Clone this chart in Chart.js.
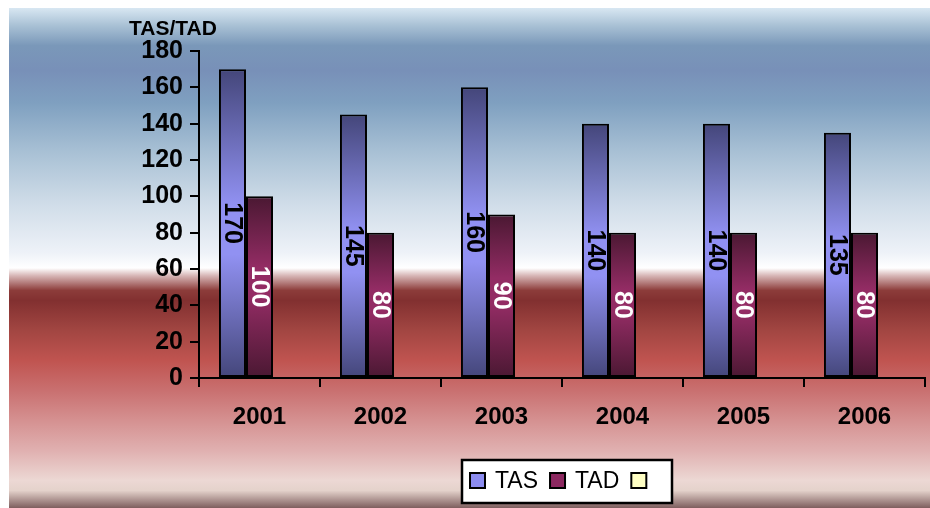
<!DOCTYPE html>
<html>
<head>
<meta charset="utf-8">
<script src="https://cdn.jsdelivr.net/npm/chart.js@4.4.1/dist/chart.umd.min.js"></script>
<style>
  html, body { margin: 0; padding: 0; background: #ffffff; }
  #wrap { width: 930px; height: 508px; position: relative; }
</style>
</head>
<body>
<div id="wrap"><canvas id="chart"></canvas></div>
<script>
/* ---- data ---- */
const years = ['2001', '2002', '2003', '2004', '2005', '2006'];
const tasValues = [170, 145, 160, 140, 140, 135];
const tadValues = [100, 80, 90, 80, 80, 80];
const emptyValues = [];
const seriesNames = ['TAS', 'TAD', ''];
const axisTitle = 'TAS/TAD';

/* ---- colours ---- */
const COLORS = {
  tasDark: '#44467a',
  tasLight: '#9191f2',
  tadDark: '#4a1832',
  tadLight: '#932c64',
  tasKey: '#8c8cf0',
  tadKey: '#8c2860',
  emptyKey: '#ffffc4',
};
const FONT = "'Liberation Sans', Arial, sans-serif";

/* vertical gradient per bar: dark - light - dark */
function barGradient(dark, light, peak) {
  return function (context) {
    const chart = context.chart;
    if (!chart.chartArea || context.raw == null) return light;
    const y = chart.scales.y;
    const top = y.getPixelForValue(context.raw);
    const base = y.getPixelForValue(0);
    if (!isFinite(top) || base - top < 1) return light;
    const g = chart.ctx.createLinearGradient(0, top, 0, base);
    g.addColorStop(0, dark);
    g.addColorStop(peak - 0.08, light);
    g.addColorStop(peak + 0.08, light);
    g.addColorStop(1, dark);
    return g;
  };
}

/* page background */
const backgroundPlugin = {
  id: 'bg',
  beforeDraw(chart) {
    const ctx = chart.ctx;
    const g = ctx.createLinearGradient(0, 8, 0, 508);
    const stops = [
      [0, '#d8e7f2'], [0.035, '#a9c1d5'], [0.075, '#7a98b9'], [0.125, '#7890b8'],
      [0.19, '#7fa0c0'], [0.29, '#a9c1d5'], [0.39, '#cfdce8'], [0.49, '#eef2f8'],
      [0.52, '#ffffff'], [0.535, '#d8b8b8'], [0.565, '#8c3c3a'], [0.585, '#823030'],
      [0.645, '#a24642'], [0.705, '#c05450'], [0.765, '#c97070'], [0.825, '#d59191'],
      [0.885, '#e0b0b0'], [0.945, '#ecd8d4'], [0.965, '#e4d2cb'], [1, '#7e5e5e']
    ];
    stops.forEach(s => g.addColorStop(s[0], s[1]));
    ctx.save();
    ctx.fillStyle = g;
    ctx.fillRect(9, 8, 921, 500);
    ctx.restore();
  }
};

/* rotated value labels inside the bars + axis title */
const labelPlugin = {
  id: 'barLabels',
  afterDatasetsDraw(chart) {
    const ctx = chart.ctx;
    ctx.save();
    ctx.font = 'bold 25px ' + FONT;
    ctx.textAlign = 'center';
    ctx.textBaseline = 'middle';
    chart.data.datasets.forEach((ds, i) => {
      if (!ds.data.length) return;
      ctx.fillStyle = i === 0 ? '#000000' : '#ffffff';
      chart.getDatasetMeta(i).data.forEach((bar, j) => {
        const cy = (bar.y + bar.base) / 2;
        ctx.save();
        ctx.translate(bar.x, cy);
        ctx.rotate(Math.PI / 2);
        ctx.fillText(String(ds.data[j]), 0, 1);
        ctx.restore();
      });
    });
    // axis title above the y axis
    ctx.fillStyle = '#000000';
    ctx.font = 'bold 21px ' + FONT;
    ctx.textAlign = 'left';
    ctx.textBaseline = 'alphabetic';
    ctx.fillText(axisTitle, 129, 35);
    ctx.restore();
  }
};

/* boxed legend at the bottom */
const legendPlugin = {
  id: 'boxLegend',
  afterDraw(chart) {
    const ctx = chart.ctx;
    const keys = [COLORS.tasKey, COLORS.tadKey, COLORS.emptyKey];
    ctx.save();
    ctx.fillStyle = '#ffffff';
    ctx.fillRect(462, 460, 210, 43);
    ctx.strokeStyle = '#000000';
    ctx.lineWidth = 2.5;
    ctx.strokeRect(462, 460, 210, 43);
    ctx.font = '23px ' + FONT;
    ctx.textBaseline = 'middle';
    ctx.textAlign = 'left';
    let x = 470;
    seriesNames.forEach((name, i) => {
      ctx.fillStyle = keys[i];
      ctx.fillRect(x, 473, 15, 15);
      ctx.lineWidth = 2;
      ctx.strokeStyle = '#000000';
      ctx.strokeRect(x, 473, 15, 15);
      ctx.fillStyle = '#000000';
      ctx.fillText(name, x + 25, 482);
      x += 25 + ctx.measureText(name).width + 12;
    });
    ctx.restore();
  }
};

const tasFill = barGradient(COLORS.tasDark, COLORS.tasLight, 0.52);
const tadFill = barGradient(COLORS.tadDark, COLORS.tadLight, 0.47);

new Chart(document.getElementById('chart'), {
  type: 'bar',
  data: {
    labels: years,
    datasets: [
      { label: seriesNames[0], data: tasValues, backgroundColor: tasFill },
      { label: seriesNames[1], data: tadValues, backgroundColor: tadFill },
      { label: seriesNames[2], data: emptyValues, backgroundColor: COLORS.emptyKey },
    ]
  },
  options: {
    responsive: true,
    maintainAspectRatio: false,
    animation: false,
    layout: { padding: { top: 51, right: 5, bottom: 0, left: 0 } },
    datasets: {
      bar: {
        borderColor: '#000000',
        borderWidth: 2,
        borderSkipped: false,
        categoryPercentage: 0.67,
        barPercentage: 1.0,
      }
    },
    plugins: {
      legend: { display: false },
      tooltip: { enabled: false },
    },
    scales: {
      x: {
        afterFit(scale) { scale.height = 130; },
        grid: {
          offset: true,
          drawOnChartArea: false,
          drawTicks: true,
          tickLength: 9,
          color: '#000000',
          lineWidth: 2,
        },
        border: { display: true, color: '#000000', width: 2 },
        ticks: {
          color: '#000000',
          padding: 16,
          maxRotation: 0,
          font: { family: FONT, size: 24, weight: 'bold' },
        }
      },
      y: {
        min: 0,
        max: 180,
        afterFit(scale) { scale.width = 199; },
        grid: {
          drawOnChartArea: false,
          drawTicks: true,
          tickLength: 9,
          color: '#000000',
          lineWidth: 2,
        },
        border: { display: true, color: '#000000', width: 2 },
        ticks: {
          stepSize: 20,
          color: '#000000',
          padding: 7,
          font: { family: FONT, size: 25, weight: 'bold' },
        }
      }
    }
  },
  plugins: [backgroundPlugin, labelPlugin, legendPlugin]
});
</script>
</body>
</html>
